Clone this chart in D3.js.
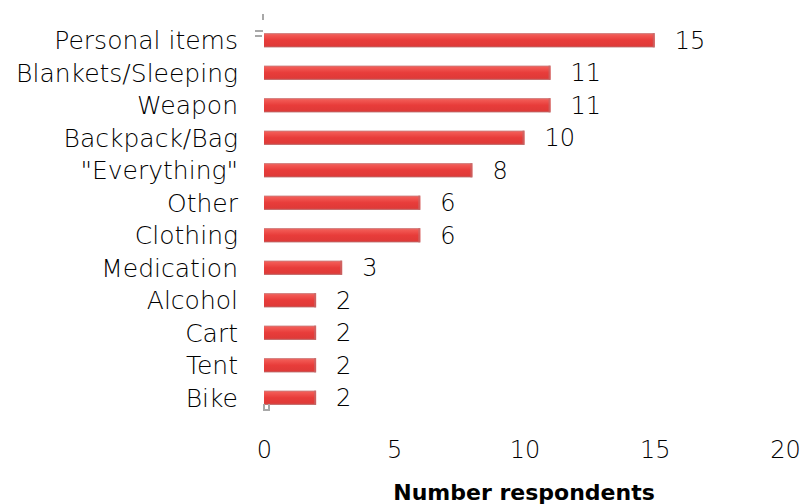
<!DOCTYPE html>
<html>
<head>
<meta charset="utf-8">
<script src="https://cdn.jsdelivr.net/npm/d3@7"></script>
<style>
  body { margin: 0; background: #fff; }
  svg { display: block; }
  text { font-family: "DejaVu Sans", sans-serif; fill: #000; }
</style>
</head>
<body>
<svg id="chart" width="801" height="504"></svg>
<script>
var categories = ["Personal items", "Blankets/Sleeping", "Weapon", "Backpack/Bag", "\"Everything\"",
    "Other", "Clothing", "Medication", "Alcohol", "Cart", "Tent", "Bike"];
var counts = [15, 11, 11, 10, 8, 6, 6, 3, 2, 2, 2, 2];
var xTicks = [0, 5, 10, 15, 20];
var xTitle = "Number respondents";

var data = categories.map(function (c, i) { return {name: c, value: counts[i]}; });

var svg = d3.select("#chart");

var x = d3.scaleLinear().domain([0, 20]).range([264, 785]);
var y = d3.scaleBand().domain(categories).range([24, 414]).paddingInner(0.56).paddingOuter(0.28);

// bar gradient
var defs = svg.append("defs");
var grad = defs.append("linearGradient").attr("id", "barGrad")
    .attr("x1", 0).attr("y1", 0).attr("x2", 0).attr("y2", 1);
grad.append("stop").attr("offset", "0%").attr("stop-color", "#c98080");
grad.append("stop").attr("offset", "12%").attr("stop-color", "#f25a55");
grad.append("stop").attr("offset", "50%").attr("stop-color", "#e83c3a");
grad.append("stop").attr("offset", "88%").attr("stop-color", "#df3a38");
grad.append("stop").attr("offset", "100%").attr("stop-color", "#b86a6a");

svg.append("g").selectAll("rect")
    .data(data)
    .enter().append("rect")
    .attr("x", x(0))
    .attr("y", function (d) { return y(d.name); })
    .attr("width", function (d) { return x(d.value) - x(0); })
    .attr("height", y.bandwidth())
    .attr("fill", "url(#barGrad)");

// right edge shading
svg.append("g").selectAll("rect")
    .data(data)
    .enter().append("rect")
    .attr("x", function (d) { return x(d.value) - 2; })
    .attr("y", function (d) { return y(d.name); })
    .attr("width", 2)
    .attr("height", y.bandwidth())
    .attr("fill", "#c46a6a")
    .attr("opacity", 0.7);

// category labels
svg.append("g").selectAll("text")
    .data(data)
    .enter().append("text")
    .attr("x", 238)
    .attr("y", function (d) { return y(d.name) + y.bandwidth() / 2; })
    .attr("dy", "0.36em")
    .attr("text-anchor", "end")
    .style("font-size", "25px")
    .style("font-weight", "300")
    .text(function (d) { return d.name; });

// value labels
svg.append("g").selectAll("text")
    .data(data)
    .enter().append("text")
    .attr("x", function (d) { return x(d.value) + 20; })
    .attr("y", function (d) { return y(d.name) + y.bandwidth() / 2; })
    .attr("dy", "0.36em")
    .style("font-size", "24px")
    .style("font-weight", "300")
    .text(function (d) { return d.value; });

// x axis
var xAxis = svg.append("g")
    .attr("transform", "translate(0,449)")
    .call(d3.axisBottom(x).tickValues(xTicks).tickSize(0).tickPadding(0));
xAxis.select(".domain").remove();
xAxis.selectAll("text")
    .attr("dy", "0.36em")
    .style("font-size", "24px")
    .style("font-weight", "300")
    .style("font-family", "'DejaVu Sans', sans-serif")
    .attr("fill", "#000");

svg.append("text")
    .attr("x", 524)
    .attr("y", 492)
    .attr("text-anchor", "middle")
    .attr("dy", "0.36em")
    .style("font-size", "22px")
    .style("font-weight", "bold")
    .text(xTitle);

// little grey marks left from the hidden axis
var marks = svg.append("g").attr("stroke", "#a8a8a8").attr("stroke-width", 2).attr("fill", "none");
marks.append("line").attr("x1", 263).attr("x2", 263).attr("y1", 14).attr("y2", 20);
marks.append("line").attr("x1", 255).attr("x2", 263).attr("y1", 31).attr("y2", 31);
marks.append("line").attr("x1", 255).attr("x2", 262).attr("y1", 36).attr("y2", 36);
marks.append("path").attr("d", "M264,404 V410 H269 V404");
</script>
</body>
</html>
